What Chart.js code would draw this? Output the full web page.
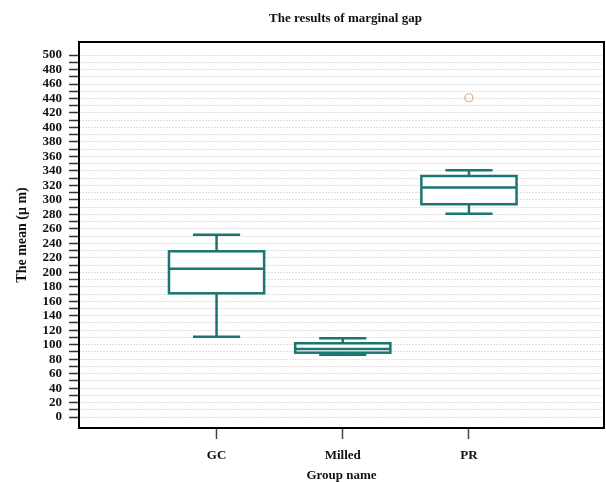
<!DOCTYPE html>
<html>
<head>
<meta charset="utf-8">
<script src="https://cdn.jsdelivr.net/npm/chart.js@4/dist/chart.umd.min.js"></script>
<style>
    html, body { margin: 0; padding: 0; background: #fff; }
    #wrap { width: 606px; height: 482px; }
</style>
</head>
<body>
<div id="wrap"><canvas id="boxChart"></canvas></div>
<script>
// Dados
const categories = ['GC', 'Milled', 'PR'];
const whiskerLow = [111, 86, 281];
const q1 = [171, 89, 294];
const median = [205, 94, 317];
const q3 = [229, 102, 333];
const whiskerHigh = [252, 109, 341];
const outlierGroup = [2];
const outlierValue = [441];
const yTickLabels = [0, 20, 40, 60, 80, 100, 120, 140, 160, 180, 200, 220, 240, 260, 280, 300, 320, 340, 360, 380, 400, 420, 440, 460, 480, 500];

const teal = '#1b7670';
const serif = "'Liberation Serif', 'Times New Roman', serif";

// Desenha as caixas usando as escalas do Chart.js
const boxPlotPlugin = {
    id: 'boxPlot',
    beforeDatasetsDraw(chart) {
        const { ctx, scales: { x, y } } = chart;
        const boxHalf = 0.377;
        const capHalf = 0.187;
        ctx.save();
        ctx.strokeStyle = teal;
        ctx.lineWidth = 2.5;
        categories.forEach((c, i) => {
            const xl = x.getPixelForValue(i - boxHalf);
            const xr = x.getPixelForValue(i + boxHalf);
            const xc = x.getPixelForValue(i);
            const cl = x.getPixelForValue(i - capHalf);
            const cr = x.getPixelForValue(i + capHalf);
            const yLo = y.getPixelForValue(whiskerLow[i]);
            const yQ1 = y.getPixelForValue(q1[i]);
            const yMed = y.getPixelForValue(median[i]);
            const yQ3 = y.getPixelForValue(q3[i]);
            const yHi = y.getPixelForValue(whiskerHigh[i]);

            ctx.fillStyle = '#fff';
            ctx.fillRect(xl, yQ3, xr - xl, yQ1 - yQ3);
            ctx.beginPath();
            // bigodes
            ctx.moveTo(xc, yQ3); ctx.lineTo(xc, yHi);
            ctx.moveTo(cl, yHi); ctx.lineTo(cr, yHi);
            ctx.moveTo(xc, yQ1); ctx.lineTo(xc, yLo);
            ctx.moveTo(cl, yLo); ctx.lineTo(cr, yLo);
            // mediana
            ctx.moveTo(xl, yMed); ctx.lineTo(xr, yMed);
            ctx.stroke();
            ctx.strokeRect(xl, yQ3, xr - xl, yQ1 - yQ3);
        });
        ctx.restore();
    },
    afterDraw(chart) {
        const { ctx, chartArea: a } = chart;
        ctx.save();
        // moldura
        ctx.strokeStyle = '#000';
        ctx.lineWidth = 2;
        ctx.strokeRect(a.left, a.top, a.right - a.left, a.bottom - a.top);
        // título centrado na área do gráfico
        ctx.fillStyle = '#111';
        ctx.font = 'bold 13px ' + serif;
        ctx.textAlign = 'center';
        ctx.textBaseline = 'middle';
        ctx.fillText('The results of marginal gap', (a.left + a.right) / 2 + 4, 19);
        ctx.restore();
    }
};

const ctx = document.getElementById('boxChart').getContext('2d');
const boxChart = new Chart(ctx, {
    type: 'scatter',
    data: {
        datasets: [{
            label: 'Outliers',
            data: outlierGroup.map((g, i) => ({ x: g, y: outlierValue[i] })),
            pointStyle: 'circle',
            pointRadius: 4,
            pointBorderWidth: 1.2,
            pointBorderColor: '#e2ad78',
            pointBackgroundColor: 'rgba(255,255,255,0)'
        }]
    },
    options: {
        responsive: true,
        maintainAspectRatio: false,
        animation: false,
        layout: { autoPadding: false, padding: { top: 42, right: 2 } },
        plugins: {
            legend: { display: false },
            tooltip: { enabled: false },
            title: { display: false }
        },
        scales: {
            x: {
                type: 'linear',
                min: -1.09,
                max: 3.07,
                afterBuildTicks: (scale) => {
                    scale.ticks = categories.map((c, i) => ({ value: i }));
                },
                afterFit: (scale) => {
                    scale.height = 54;
                    scale.paddingLeft = 0;
                    scale.paddingRight = 0;
                },
                grid: {
                    drawOnChartArea: false,
                    tickLength: 11,
                    tickColor: '#444',
                    tickWidth: 1.5
                },
                border: { display: false },
                ticks: {
                    padding: 9,
                    color: '#111',
                    font: { family: serif, size: 13, weight: 'bold' },
                    callback: (v) => categories[v]
                },
                title: {
                    display: true,
                    text: 'Group name',
                    color: '#111',
                    padding: { top: 0, bottom: 0 },
                    font: { family: serif, size: 13, weight: 'bold', lineHeight: 1 }
                }
            },
            y: {
                min: -15,
                max: 518,
                afterBuildTicks: (scale) => {
                    const ticks = [];
                    for (let v = yTickLabels[0]; v <= yTickLabels[yTickLabels.length - 1]; v += 10) {
                        ticks.push({ value: v });
                    }
                    scale.ticks = ticks;
                },
                afterFit: (scale) => { scale.width = 79; },
                grid: {
                    color: '#e0e0e0',
                    lineWidth: 1,
                    tickLength: 10,
                    tickColor: '#333',
                    tickWidth: 1.5
                },
                border: { display: false, dash: [2, 1] },
                ticks: {
                    padding: 7,
                    color: '#111',
                    autoSkip: false,
                    font: { family: serif, size: 13, weight: 'bold' },
                    callback: (v) => yTickLabels.includes(v) ? String(v) : ''
                },
                title: {
                    display: true,
                    text: 'The mean (μ m)',
                    color: '#111',
                    padding: { top: 15, bottom: 0 },
                    font: { family: serif, size: 14, weight: 'bold', lineHeight: 1 }
                }
            }
        }
    },
    plugins: [boxPlotPlugin]
});
</script>
</body>
</html>
